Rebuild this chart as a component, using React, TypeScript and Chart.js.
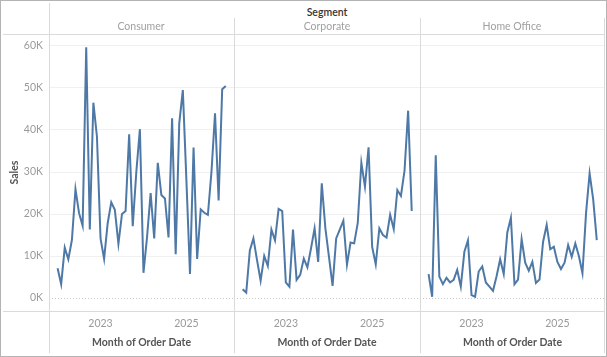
import React, { useEffect, useRef } from "react";
import { Chart, registerables } from "chart.js";

Chart.register(...registerables);

// Monthly sales, Jan 2022 .. Dec 2025 (48 months), index = month number
const SEGMENTS = ["Consumer", "Corporate", "Home Office"];

const CONSUMER = [
  7100, 3300, 12000, 9200, 13800, 25900, 20200, 17200, 59700, 16300, 46500, 38400,
  14200, 9300, 17800, 22800, 21000, 12900, 20000, 20700, 39000, 17100, 30000, 40200,
  6000, 14500, 25000, 14200, 32200, 24500, 23700, 14400, 42800, 10400, 41600, 49500,
  28000, 5700, 35800, 9300, 21100, 20300, 19800, 30000, 44000, 23200, 49700, 50500,
];

const CORPORATE = [
  2100, 1300, 11300, 14200, 9000, 4100, 10000, 7600, 16300, 13700, 21200, 20700,
  3700, 2700, 16300, 4300, 5500, 9400, 7300, 11800, 16600, 8600, 27300, 16600,
  9800, 2900, 14200, 16300, 18400, 7900, 13200, 13000, 17900, 32200, 26500, 35900,
  12200, 8000, 16600, 15000, 14400, 19800, 16400, 25700, 24300, 30300, 44600, 20700,
];

const HOME_OFFICE = [
  5700, 300, 34000, 5100, 3300, 4800, 3700, 4300, 6700, 2700, 11000, 13700,
  700, 300, 6300, 7500, 3700, 2700, 1700, 5200, 9200, 5700, 15600, 19100,
  3300, 4400, 14000, 8400, 6500, 8600, 3600, 4400, 13400, 17400, 11600, 12200,
  8600, 6900, 8400, 12600, 9800, 13000, 10000, 5900, 20200, 29700, 23500, 13800,
];

const SERIES = [CONSUMER, CORPORATE, HOME_OFFICE];

const Y_TICKS = [0, 10000, 20000, 30000, 40000, 50000, 60000];
const X_TICK_MONTHS = [12, 36];
const X_TICK_LABELS = ["2023", "2025"];

const FONT = "Lato, 'Noto Sans', sans-serif";
const LINE_COLOR = "#4e79a7";
const SEP = "#dadada";

const Y_MIN = -3095;
const Y_MAX = 62857;
const X_MIN = -2.4;
const X_MAX = 49.3;

const zeroLinePlugin = {
  id: "zeroLine",
  beforeDatasetsDraw(chart: any) {
    const { ctx, chartArea, scales } = chart;
    const y = Math.round(scales.y.getPixelForValue(0)) + 0.5;
    ctx.save();
    ctx.strokeStyle = "#c8c8c8";
    ctx.lineWidth = 1;
    ctx.setLineDash([1, 2]);
    ctx.beginPath();
    ctx.moveTo(chartArea.left, y);
    ctx.lineTo(chartArea.right, y);
    ctx.stroke();
    ctx.restore();
  },
};

function Panel({ idx, left, width }: { idx: number; left: number; width: number }) {
  const ref = useRef<HTMLCanvasElement>(null);
  useEffect(() => {
    if (!ref.current) return;
    const showY = idx === 0;
    const values = SERIES[idx];
    const chart = new Chart(ref.current, {
      type: "line",
      data: {
        datasets: [
          {
            data: values.map((v, i) => ({ x: i, y: v })),
            borderColor: LINE_COLOR,
            borderWidth: 2,
            pointRadius: 0,
            tension: 0,
            fill: false,
          },
        ],
      },
      options: {
        animation: false,
        responsive: false,
        maintainAspectRatio: false,
        layout: { padding: 0 },
        plugins: { legend: { display: false }, tooltip: { enabled: false } },
        scales: {
          x: {
            type: "linear",
            min: X_MIN,
            max: X_MAX,
            afterBuildTicks: (s: any) => {
              s.ticks = X_TICK_MONTHS.map((v) => ({ value: v }));
            },
            afterFit: (s: any) => {
              s.height = 44;
              s.paddingLeft = 0;
              s.paddingRight = 0;
            },
            grid: { display: false, drawTicks: false },
            border: { display: false },
            ticks: {
              autoSkip: false,
              maxRotation: 0,
              padding: 6,
              color: "#9a9a9a",
              font: { family: FONT, size: 10.5 },
              callback: (v: any) => {
                const k = X_TICK_MONTHS.indexOf(Number(v));
                return k >= 0 ? X_TICK_LABELS[k] : "";
              },
            },
            title: {
              display: true,
              text: "Month of Order Date",
              color: "#555",
              font: { family: FONT, size: 10.5, weight: "bold" },
              padding: { top: 0, bottom: 6 },
            },
          },
          y: {
            display: true,
            min: Y_MIN,
            max: Y_MAX,
            afterBuildTicks: (s: any) => {
              s.ticks = Y_TICKS.map((v) => ({ value: v }));
            },
            afterFit: (s: any) => {
              s.width = showY ? 49 : 0;
              s.paddingTop = 0;
              s.paddingBottom = 0;
            },
            grid: {
              drawTicks: false,
              color: (c: any) => (c.tick && c.tick.value === 0 ? "rgba(0,0,0,0)" : "#f0f0f0"),
              lineWidth: 1,
            },
            border: { display: false },
            ticks: {
              display: showY,
              padding: 6,
              color: "#9a9a9a",
              font: { family: FONT, size: 10.5 },
              callback: (v: any) => Number(v) / 1000 + "K",
            },
            title: {
              display: showY,
              text: "Sales",
              color: "#555",
              font: { family: FONT, size: 10.5, weight: "bold" },
              padding: { top: 8, bottom: 0 },
            },
          },
        },
      },
      plugins: [zeroLinePlugin],
    });
    return () => chart.destroy();
  }, [idx]);
  return (
    <canvas
      ref={ref}
      width={width}
      height={321}
      style={{ position: "absolute", left, top: 34, width, height: 321 }}
    />
  );
}

function Line({ x, y, w, h, c }: { x: number; y: number; w: number; h: number; c: string }) {
  return <div style={{ position: "absolute", left: x, top: y, width: w, height: h, background: c }} />;
}

export default function App() {
  const txt = (t: string, cx: number, cy: number, color: string, weight: number, size = 10.5) => (
    <div
      style={{
        position: "absolute",
        left: cx - 80,
        top: cy - 8,
        width: 160,
        height: 16,
        lineHeight: "16px",
        textAlign: "center",
        color,
        fontWeight: weight,
        fontSize: size,
        fontFamily: FONT,
        whiteSpace: "nowrap",
      }}
    >
      {t}
    </div>
  );
  return (
    <div
      style={{
        position: "fixed",
        left: 0,
        top: 0,
        width: 607,
        height: 357,
        background: "#fff",
        boxSizing: "border-box",
        border: "1px solid #b4b4b4",
        overflow: "hidden",
      }}
    >
      <div style={{ position: "absolute", left: -1, top: -1, width: 607, height: 357 }}>
        <Panel idx={0} left={0} width={234} />
        <Panel idx={1} left={234} width={186} />
        <Panel idx={2} left={420} width={185} />
        {/* frame lines */}
        <Line x={49} y={3} w={1} h={350} c={SEP} />
        <Line x={234} y={18} w={1} h={335} c={SEP} />
        <Line x={420} y={18} w={1} h={335} c={SEP} />
        <Line x={604} y={18} w={1} h={335} c={SEP} />
        <Line x={3} y={34} w={601} h={1} c={SEP} />
        <Line x={3} y={311} w={601} h={1} c={SEP} />
        {txt("Segment", 327, 12, "#333", 600)}
        {txt(SEGMENTS[0], 141, 26, "#a0a0a0", 400)}
        {txt(SEGMENTS[1], 327, 26, "#a0a0a0", 400)}
        {txt(SEGMENTS[2], 512, 26, "#a0a0a0", 400)}
      </div>
    </div>
  );
}
